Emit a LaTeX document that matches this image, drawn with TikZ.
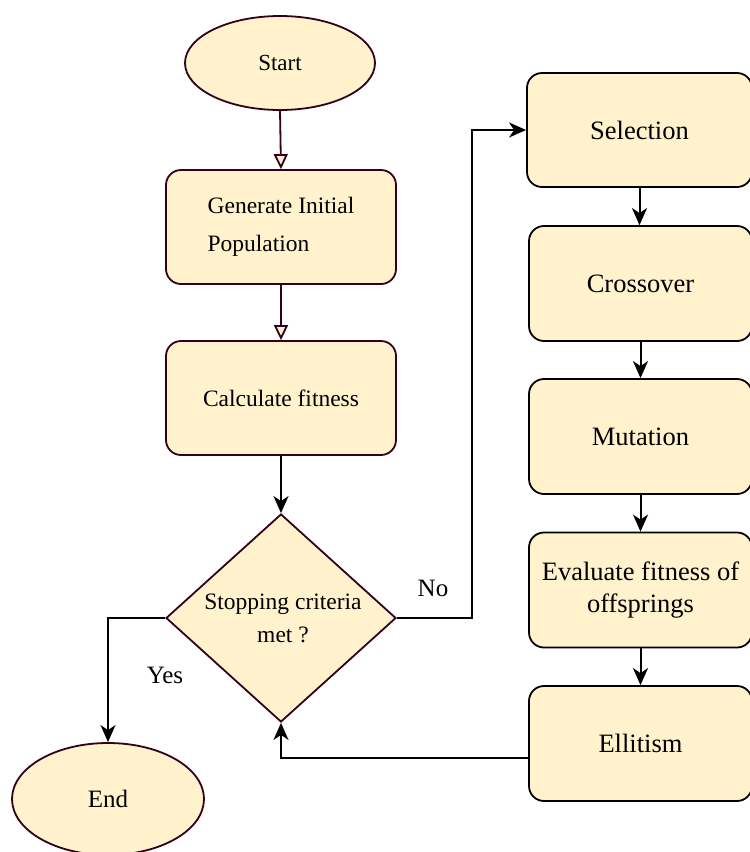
\documentclass[tikz,border=0pt]{standalone}
\usepackage{fontspec}
\setmainfont{Liberation Serif}
\usetikzlibrary{shapes.geometric,arrows.meta}
\definecolor{fillc}{HTML}{FFF2CC}
\definecolor{maroon}{HTML}{33001A}
\tikzset{
  lbox/.style={draw=maroon,fill=fillc,rounded corners=15pt,line width=1.8pt,minimum width=230pt,minimum height=114pt,font=\fontsize{23.5}{38}\selectfont},
  rbox/.style={draw=black,fill=fillc,rounded corners=15pt,line width=1.8pt,minimum width=223pt,minimum height=115pt,font=\fontsize{26.5}{32}\selectfont},
  term/.style={ellipse,draw=maroon,fill=fillc,line width=1.8pt,inner sep=0pt},
  openarr/.style={draw=maroon,line width=1.8pt,-{Triangle[length=15pt,width=14pt,fill=fillc]}},
  blackarr/.style={draw=black,line width=2pt,-{Stealth[length=17pt,width=15pt,inset=5pt]}},
  lbl/.style={font=\fontsize{25}{30}\selectfont}
}
\begin{document}
\begin{tikzpicture}[x=1pt,y=-1pt]
\useasboundingbox (0,0) rectangle (750,852);
\node[term,minimum width=190pt,minimum height=94pt,font=\fontsize{23}{26}\selectfont] (start) at (280,63) {Start};
\node[lbox,align=left] (gen) at (281,227) {Generate Initial\\Population};
\node[lbox] (calc) at (281,398) {Calculate fitness};
\node[diamond,draw=maroon,fill=fillc,line width=1.8pt,inner sep=0pt,minimum width=230pt,minimum height=208pt,align=center,font=\fontsize{23}{33}\selectfont] (dia) at (281,618) {};
\node[align=center,font=\fontsize{23.5}{33}\selectfont] (diatext) at (283,618) {Stopping criteria\\met ?};
\node[term,minimum width=192pt,minimum height=112pt,font=\fontsize{25}{30}\selectfont] (end) at (108,799) {End};

\node[rbox,minimum width=225pt,minimum height=114pt] (sel) at (639.5,130) {Selection};
\node[rbox] (cross) at (640.5,283.5) {Crossover};
\node[rbox] (mut) at (640.5,436.5) {Mutation};
\node[rbox,align=center] (eval) at (640.5,590) {Evaluate fitness of\\offsprings};
\node[rbox] (ell) at (640.5,743.5) {Ellitism};

\draw[openarr] (start.south) -- (gen.north);
\draw[openarr] (gen.south) -- (calc.north);
\draw[blackarr] (calc.south) -- (dia.north);
\draw[blackarr] (dia.east) -- ++(75,0) coordinate (nocorner) |- (sel.west);
\draw[blackarr] (dia.west) -| (end.north);
\draw[blackarr] (sel.south) -- (sel.south |- cross.north);
\draw[blackarr] (cross.south) -- (mut.north);
\draw[blackarr] (mut.south) -- (eval.north);
\draw[blackarr] (eval.south) -- (ell.north);
\draw[blackarr] ([yshift=-14pt]ell.west) -| (dia.south);

\node[lbl] (no) at (433,588) {No};
\node[lbl] (yes) at (165,675) {Yes};
\end{tikzpicture}
\end{document}
